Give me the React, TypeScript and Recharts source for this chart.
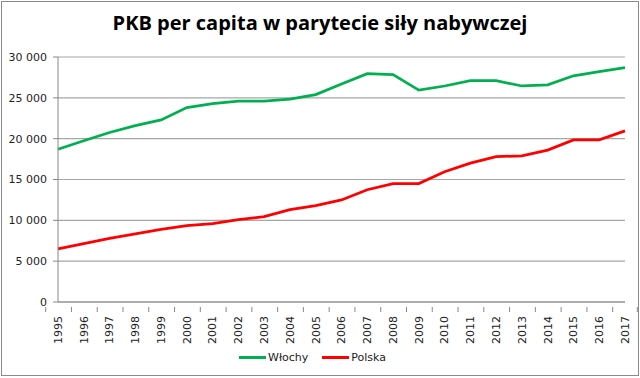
import { LineChart, Line, XAxis, YAxis, CartesianGrid, Legend } from "recharts";

const years = [
  "1995", "1996", "1997", "1998", "1999", "2000", "2001", "2002", "2003", "2004", "2005", "2006",
  "2007", "2008", "2009", "2010", "2011", "2012", "2013", "2014", "2015", "2016", "2017",
];
const wlochy = [
  18700, 19750, 20750, 21600, 22300, 23800, 24300, 24600, 24600, 24850, 25400, 26700,
  27950, 27850, 25950, 26450, 27100, 27100, 26450, 26600, 27700, 28200, 28700,
];
const polska = [
  6500, 7150, 7800, 8350, 8900, 9350, 9600, 10100, 10450, 11300, 11800, 12500,
  13750, 14500, 14500, 15950, 17000, 17800, 17900, 18600, 19850, 19850, 20950,
];
const yTicks = [0, 5000, 10000, 15000, 20000, 25000, 30000];

const data = years.map((year, i) => ({ year, wlochy: wlochy[i], polska: polska[i] }));

const W = 640;
const H = 378;
const PLOT_LEFT = 58;
const PLOT_RIGHT = 625;
const BAND = (PLOT_RIGHT - PLOT_LEFT) / years.length;
const FONT = "'DejaVu Sans', Verdana, sans-serif";

const fmt = (v: number) => (v >= 1000 ? `${Math.floor(v / 1000)} ${String(v % 1000).padStart(3, "0")}` : String(v));

const YearTick = (props: any) => {
  const { x, y, payload, index } = props;
  const left = x - BAND / 2;
  const ty = y + 6;
  return (
    <g>
      <line x1={left} y1={y - 3} x2={left} y2={y + 2} stroke="#888" />
      {index === years.length - 1 && (
        <line x1={x + BAND / 2} y1={y - 3} x2={x + BAND / 2} y2={y + 2} stroke="#888" />
      )}
      <text
        x={x}
        y={ty}
        dy="0.35em"
        textAnchor="end"
        transform={`rotate(-90, ${x}, ${ty})`}
        fontSize={11}
        fontFamily={FONT}
        fill="#222"
      >
        {payload.value}
      </text>
    </g>
  );
};

const LegendBox = () => (
  <div
    style={{
      display: "flex",
      justifyContent: "center",
      gap: 14,
      paddingTop: 3,
      fontFamily: FONT,
      fontSize: 11,
      color: "#222",
    }}
  >
    {[
      { name: "Włochy", color: "#00B050" },
      { name: "Polska", color: "#FF0000" },
    ].map((s) => (
      <div key={s.name} style={{ display: "flex", alignItems: "center", gap: 2 }}>
        <span style={{ display: "inline-block", width: 27, height: 3, background: s.color }} />
        <span>{s.name}</span>
      </div>
    ))}
  </div>
);

export default function App() {
  return (
    <div style={{ position: "absolute", left: 0, top: 0, width: W, height: H, background: "#fff" }}>
      <div
        style={{
          position: "absolute",
          left: 1,
          top: 1,
          width: 636,
          height: 373,
          border: "1px solid #8a8a8a",
        }}
      />
      <div
        style={{
          position: "absolute",
          left: 0,
          top: 9,
          width: W,
          textAlign: "center",
          fontFamily: "'Open Sans', sans-serif",
          fontWeight: 700,
          fontSize: 20,
          color: "#000",
        }}
      >
        PKB per capita w parytecie siły nabywczej
      </div>
      <LineChart width={W} height={H} data={data} margin={{ top: 57, right: W - PLOT_RIGHT, bottom: 5, left: 0 }}>
        <CartesianGrid vertical={false} stroke="#a6a6a6" strokeWidth={1.2} />
        <XAxis
          dataKey="year"
          height={46}
          interval={0}
          tickLine={false}
          axisLine={{ stroke: "#888" }}
          tick={<YearTick />}
        />
        <YAxis
          width={PLOT_LEFT}
          domain={[0, 30000]}
          ticks={yTicks}
          tickFormatter={fmt}
          axisLine={{ stroke: "#888" }}
          tickLine={{ stroke: "#888" }}
          tickSize={5}
          tickMargin={6}
          tick={{ fontSize: 11, fontFamily: FONT, fill: "#222" }}
        />
        <Legend verticalAlign="bottom" height={25} content={<LegendBox />} />
        <Line
          dataKey="wlochy"
          name="Włochy"
          stroke="#00B050"
          strokeWidth={2.75}
          dot={false}
          isAnimationActive={false}
        />
        <Line
          dataKey="polska"
          name="Polska"
          stroke="#FF0000"
          strokeWidth={2.75}
          dot={false}
          isAnimationActive={false}
        />
      </LineChart>
    </div>
  );
}
